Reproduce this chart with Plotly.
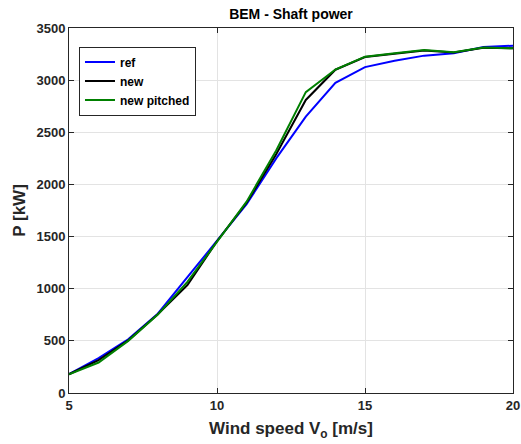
import plotly.graph_objects as go

wind = list(range(5, 21))
p_ref = [180, 335, 515, 760, 1110, 1455, 1810, 2250, 2650, 2975, 3125, 3185, 3235, 3258, 3318, 3330]
p_new = [180, 315, 505, 755, 1035, 1455, 1825, 2290, 2810, 3100, 3222, 3255, 3285, 3265, 3310, 3305]
p_pitched = [180, 292, 500, 752, 1065, 1455, 1835, 2325, 2885, 3102, 3225, 3257, 3289, 3267, 3312, 3306]

series = [("ref", p_ref, "#0000ff"), ("new", p_new, "#000000"), ("new pitched", p_pitched, "#008000")]

fig = go.Figure()
for name, vals, col in series:
    fig.add_trace(go.Scatter(x=wind, y=vals, mode="lines", name="<b>%s</b>" % name,
                             line=dict(color=col, width=2)))

font_main = "Liberation Sans, Arial, sans-serif"
axis_common = dict(
    showline=True, linecolor="#262626", linewidth=1, mirror="ticks",
    ticks="inside", ticklen=5, tickcolor="#262626",
    showgrid=True, gridcolor="#e3e3e3", gridwidth=1, zeroline=False,
    automargin=False,
    tickfont=dict(family=font_main, size=13, color="#262626"),
)

fig.update_layout(
    width=521, height=444,
    margin=dict(l=69, r=8, t=28, b=51),
    paper_bgcolor="white", plot_bgcolor="white",
    font=dict(family=font_main, color="#262626"),
    title=dict(text="<b>BEM - Shaft power</b>", x=0.5585, xanchor="center",
               y=0.968, yanchor="middle", font=dict(size=14, color="#000000")),
    xaxis=dict(range=[5, 20], tickvals=[5, 10, 15, 20],
               ticktext=["<b>5</b>", "<b>10</b>", "<b>15</b>", "<b>20</b>"],
               title=dict(text="<b>Wind speed V<sub>o</sub> [m/s]</b>", standoff=10,
                          font=dict(size=17, color="#262626")),
               **axis_common),
    yaxis=dict(range=[0, 3500], tickvals=list(range(0, 3501, 500)),
               ticktext=["<b>%d</b>" % v for v in range(0, 3501, 500)],
               title=dict(text="<b>P [kW]</b>", standoff=6,
                          font=dict(size=17, color="#262626")),
               **axis_common),
    legend=dict(x=0.0225, y=0.949, xanchor="left", yanchor="top",
                bgcolor="white", bordercolor="#262626", borderwidth=1,
                font=dict(size=12, color="#000000", family=font_main),
                tracegroupgap=0, itemwidth=30),
    showlegend=True,
)

fig.write_html("out.html")
